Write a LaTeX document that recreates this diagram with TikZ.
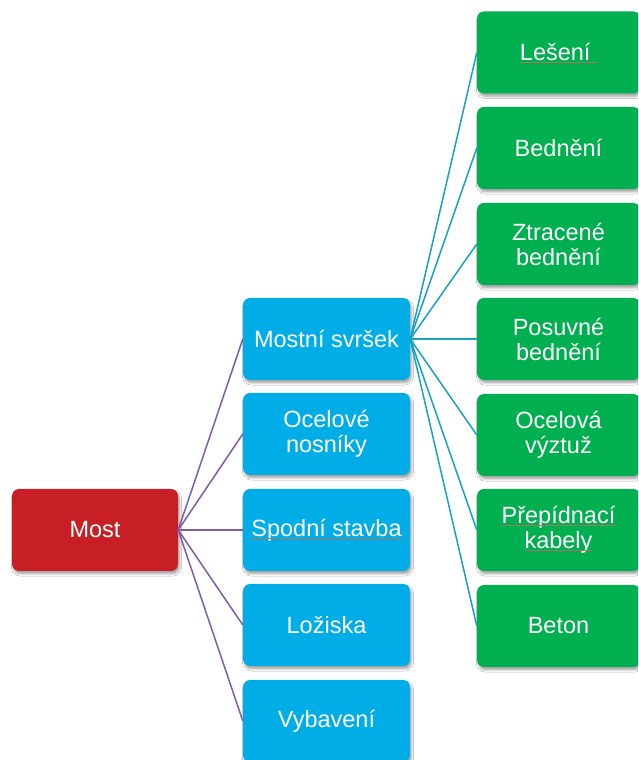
\documentclass[tikz,border=0pt]{standalone}
\usepackage{fontspec}
\setmainfont{Liberation Sans}
\usetikzlibrary{shadows.blur}
\definecolor{rootred}{HTML}{C81F26}
\definecolor{midblue}{HTML}{00ADE7}
\definecolor{leafgreen}{HTML}{00AF4F}
\definecolor{linkpurple}{HTML}{7E5DA8}
\definecolor{linkteal}{HTML}{17A2C3}
\definecolor{spellred}{HTML}{A8765E}
% spell-checker style underline under a word
\newcommand\spellmark[1]{\leavevmode\setbox0=\hbox{#1}\rlap{\copy0}\raisebox{-2pt}{\textcolor{spellred}{\rule{\wd0}{0.5pt}}}}
\tikzset{
  box/.style={rounded corners=7pt, minimum height=82pt, inner sep=0pt,
    text=white, align=center, font=\fontsize{23.5}{25}\selectfont,
    blur shadow={shadow xshift=1.5pt, shadow yshift=-3pt, shadow blur steps=6, shadow opacity=35}},
  rootbox/.style={box, fill=rootred, minimum width=166pt},
  midbox/.style={box, fill=midblue, minimum width=167pt},
  leafbox/.style={box, fill=leafgreen, minimum width=163pt},
  purplelink/.style={draw=linkpurple, line width=1.5pt},
  teallink/.style={draw=linkteal, line width=1.5pt}
}
\begin{document}
\begin{tikzpicture}[x=1pt,y=1pt]
\clip (0,0) rectangle (638,760);
\fill[white] (0,0) rectangle (638,760);

% root
\node[rootbox] (most) at (95,230) {Most};

% second level
\node[midbox] (svrsek) at (326.5,421) {Mostní svršek};
\node[midbox] (nosniky) at (326.5,326) {Ocelové\\nosníky};
\node[midbox] (spodni) at (326.5,230) {\spellmark{Spodní stavba}};
\node[midbox] (loziska) at (326.5,135) {Ložiska};
\node[midbox] (vybaveni) at (326.5,39) {Vybavení};

% third level
\node[leafbox] (leseni) at (558.5,707.5) {\spellmark{Lešení }};
\node[leafbox] (bedneni) at (558.5,612) {Bednění};
\node[leafbox] (ztracene) at (558.5,516) {Ztracené\\bednění};
\node[leafbox] (posuvne) at (558.5,421) {Posuvné\\bednění};
\node[leafbox] (vyztuz) at (558.5,325) {Ocelová\\výztuž};
\node[leafbox] (kabely) at (558.5,230) {\spellmark{Přepídnací}\\\spellmark{kabely}};
\node[leafbox] (beton) at (558.5,134) {Beton};

% connectors
\foreach \n in {svrsek,nosniky,spodni,loziska,vybaveni}
  \path[purplelink] (most.east) -- (\n.west);
\foreach \n in {leseni,bedneni,ztracene,posuvne,vyztuz,kabely,beton}
  \path[teallink] (svrsek.east) -- (\n.west);
\end{tikzpicture}
\end{document}
